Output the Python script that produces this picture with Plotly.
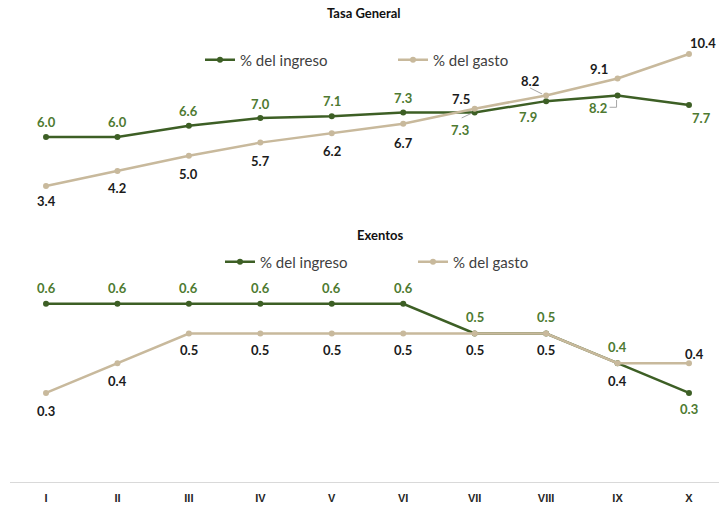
import plotly.graph_objects as go

# Categories (Roman-numeral groups)
categories = ["I", "II", "III", "IV", "V", "VI", "VII", "VIII", "IX", "X"]

# Tasa General
general_ingreso = [6.0, 6.0, 6.6, 7.0, 7.1, 7.3, 7.3, 7.9, 8.2, 7.7]
general_gasto = [3.4, 4.2, 5.0, 5.7, 6.2, 6.7, 7.5, 8.2, 9.1, 10.4]

# Exentos
exentos_ingreso = [0.6, 0.6, 0.6, 0.6, 0.6, 0.6, 0.5, 0.5, 0.4, 0.3]
exentos_gasto = [0.3, 0.4, 0.5, 0.5, 0.5, 0.5, 0.5, 0.5, 0.4, 0.4]

GREEN = "#3d5f25"
GREEN_TXT = "#4e7a31"
TAN = "#c8b99c"
DARK = "#1b1b1b"
LABEL_FONT = "Lato"

# label offsets in pixels (dx, dy; dy positive = up)
off_gen_ing = [(0, 15), (0, 15), (0, 15), (0, 14), (0, 15), (0, 14), (-15, -18), (-18, -16), (-20, -13), (13, -13)]
off_gen_gas = [(0, -15), (0, -17), (0, -18), (0, -18), (0, -18), (0, -19), (-14, 10), (-16, 14), (-19, 10), (14, 11)]
off_exe_ing = [(0, 16), (0, 16), (0, 16), (0, 16), (0, 16), (0, 16), (0, 16), (0, 16), (0, 16), (0, -16)]
off_exe_gas = [(0, -18), (0, -18), (0, -17), (0, -17), (0, -17), (0, -17), (0, -17), (0, -17), (0, -18), (6, 9)]

fig = go.Figure()


def add_series(values, color, name, yaxis, legend):
    fig.add_trace(go.Scatter(
        x=categories, y=values, name=name, mode="lines+markers",
        line=dict(color=color, width=2.5), marker=dict(color=color, size=6),
        xaxis="x", yaxis=yaxis, legend=legend, cliponaxis=False,
        hoverinfo="skip",
    ))


add_series(general_ingreso, GREEN, "% del ingreso", "y", "legend")
add_series(general_gasto, TAN, "% del gasto", "y", "legend")
add_series(exentos_ingreso, GREEN, "% del ingreso", "y2", "legend2")
add_series(exentos_gasto, TAN, "% del gasto", "y2", "legend2")

annotations = []


def add_labels(values, offsets, color, yref):
    for cat, v, (dx, dy) in zip(categories, values, offsets):
        annotations.append(dict(
            x=cat, y=v, xref="x", yref=yref, text=f"{v:.1f}", showarrow=False,
            xshift=dx, yshift=dy,
            font=dict(family=LABEL_FONT, size=13, color=color, weight="bold"),
        ))


add_labels(general_ingreso, off_gen_ing, GREEN_TXT, "y")
add_labels(general_gasto, off_gen_gas, DARK, "y")
add_labels(exentos_ingreso, off_exe_ing, GREEN_TXT, "y2")
add_labels(exentos_gasto, off_exe_gas, DARK, "y2")

# panel titles
for text, cx, cy in [("Tasa General", 364, 13), ("Exentos", 380, 235)]:
    annotations.append(dict(x=(cx - 10) / 709, y=(482 - cy) / 482, xref="paper", yref="paper",
                            xanchor="center", yanchor="middle",
                            text=f"<b>{text}</b>", showarrow=False,
                            font=dict(family=LABEL_FONT, size=13, color="#111111")))

# small leader lines tying displaced labels to their points
shapes = []


def leader(cat, v, yref, x0, y0, x1, y1):
    shapes.append(dict(type="line", xref="x", yref=yref, xsizemode="pixel", ysizemode="pixel",
                       xanchor=cat, yanchor=v, x0=x0, y0=y0, x1=x1, y1=y1,
                       line=dict(color="#a6a6a6", width=1)))


leader("VII", general_ingreso[6], "y", -13, -5.5, -3, -0.8)
leader("VIII", general_gasto[7], "y", -16, 7.5, -4, 1.5)
leader("IX", general_ingreso[8], "y", -8, -11.8, -1, -11.8)
leader("IX", general_ingreso[8], "y", -1, -11.8, -1, -4.5)

legend_font = dict(family=LABEL_FONT, size=15, color="#404040")

fig.update_layout(
    width=719, height=508,
    margin=dict(l=10, r=0, t=0, b=26),
    paper_bgcolor="white", plot_bgcolor="white",
    showlegend=True,
    annotations=annotations,
    shapes=shapes,
    xaxis=dict(type="category", range=[-0.504, 9.42], anchor="y2",
               showline=True, linecolor="#d9d9d9", linewidth=1,
               showgrid=False, zeroline=False, ticks="", ticklen=0, ticklabelstandoff=6,
               tickfont=dict(family="Liberation Sans", size=11, color="#262626", weight="bold")),
    yaxis=dict(domain=[0.5, 1.0], range=[0.484, 13.262], visible=False, anchor="x"),
    yaxis2=dict(domain=[0.0, 0.5], range=[0.0, 0.8114], visible=False, anchor="x"),
    legend=dict(orientation="h", x=(200 - 10) / 709, y=(482 - 60) / 482, xanchor="left", yanchor="middle",
                entrywidth=148, entrywidthmode="pixels", font=legend_font, bgcolor="rgba(0,0,0,0)",
                itemclick=False),
    legend2=dict(orientation="h", x=(220 - 10) / 709, y=(482 - 262) / 482, xanchor="left", yanchor="middle",
                 entrywidth=148, entrywidthmode="pixels", font=legend_font, bgcolor="rgba(0,0,0,0)",
                 itemclick=False),
)

fig.write_html("out.html")
